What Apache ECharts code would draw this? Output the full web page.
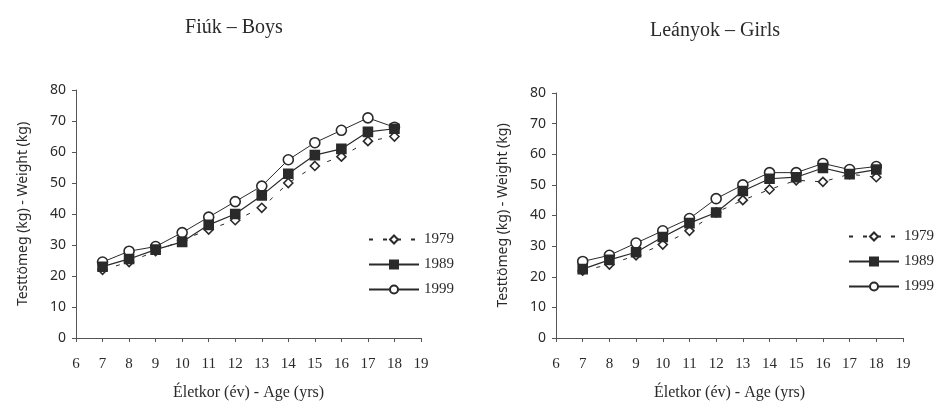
<!DOCTYPE html>
<html lang="hu">
<head>
    <meta charset="UTF-8">
    <script src="https://cdn.jsdelivr.net/npm/echarts@6/dist/echarts.min.js"></script>
    <title>Testtömeg</title>
    <style>
        html, body { height: 100%; margin: 0; padding: 0; background: #fff; }
        #chart { width: 935px; height: 403px; }
    </style>
</head>
<body>
    <div id="chart"></div>
    <script>
        // adatok
        var ages = [7, 8, 9, 10, 11, 12, 13, 14, 15, 16, 17, 18];
        var years = ['1979', '1989', '1999'];
        var xTicks = [6, 7, 8, 9, 10, 11, 12, 13, 14, 15, 16, 17, 18, 19];
        var yTicks = [0, 10, 20, 30, 40, 50, 60, 70, 80];

        var boys1979 = [22, 24.5, 28, 31.5, 35, 38, 42, 50, 55.5, 58.5, 63.5, 65];
        var boys1989 = [23, 25.5, 28.5, 31, 36.5, 40, 46, 53, 59, 61, 66.5, 67.5];
        var boys1999 = [24.5, 28, 29.5, 34, 39, 44, 49, 57.5, 63, 67, 71, 68];

        var girls1979 = [22, 24, 27, 30.5, 35, 41, 45, 48.5, 51.5, 51, 53.5, 52.5];
        var girls1989 = [22.5, 25.5, 28, 33, 37.5, 41, 48, 52, 52.5, 55.5, 53.5, 55];
        var girls1999 = [25, 27, 31, 35, 39, 45.5, 50, 54, 54, 57, 55, 56];

        var serif = 'Liberation Serif';
        var sans = 'Noto Sans';
        var ink = '#2a2a2a';

        function pairs(vals) {
            return ages.map(function (a, i) { return [a, vals[i]]; });
        }

        var styles = {
            '1979': { symbol: 'diamond', size: 9, fill: '#fff', line: { color: ink, width: 1, type: [4, 10] } },
            '1989': { symbol: 'rect', size: 9, fill: ink, line: { color: ink, width: 1.2, type: 'solid' } },
            '1999': { symbol: 'circle', size: 10, fill: '#fff', line: { color: ink, width: 1, type: 'solid' } }
        };

        function makeSeries(name, vals, idx) {
            var s = styles[name];
            return {
                name: name,
                type: 'line',
                xAxisIndex: idx,
                yAxisIndex: idx,
                data: pairs(vals),
                symbol: s.symbol,
                symbolSize: s.size,
                showAllSymbol: true,
                itemStyle: { color: s.fill, borderColor: ink, borderWidth: 1.6 },
                lineStyle: s.line,
                z: name === '1989' ? 3 : 2,
                animation: false
            };
        }

        function xAxis(idx) {
            return {
                gridIndex: idx,
                type: 'value',
                min: 6, max: 19, interval: 1,
                name: 'Életkor (év) - Age (yrs)',
                nameLocation: 'middle',
                nameGap: 47,
                nameTextStyle: { fontFamily: serif, fontSize: 16, color: ink },
                axisLine: { lineStyle: { color: '#555' } },
                axisTick: { show: true, length: 4, lineStyle: { color: '#555' } },
                axisLabel: {
                    fontFamily: serif, fontSize: 15, color: ink, margin: 19,
                    formatter: function (v) { return xTicks.indexOf(v) >= 0 ? String(v) : ''; }
                },
                splitLine: { show: false }
            };
        }

        function yAxis(idx) {
            return {
                gridIndex: idx,
                type: 'value',
                min: 0, max: 80, interval: 10,
                name: 'Testtömeg (kg) - Weight (kg)',
                nameLocation: 'middle',
                nameGap: 46,
                nameTextStyle: { fontFamily: sans, fontSize: 14, color: ink },
                axisLine: { show: true, lineStyle: { color: '#555' } },
                axisTick: { show: true, length: 4, lineStyle: { color: '#555' } },
                axisLabel: {
                    fontFamily: sans, fontSize: 14, color: ink, margin: 10,
                    formatter: function (v) { return yTicks.indexOf(v) >= 0 ? String(v) : ''; }
                },
                splitLine: { show: false }
            };
        }

        function legend(left, top) {
            return {
                data: years,
                orient: 'vertical',
                left: left,
                top: top,
                padding: 0,
                itemWidth: 50,
                itemHeight: 10,
                itemGap: 10,
                selectedMode: false,
                textStyle: { fontFamily: serif, fontSize: 15, color: ink }
            };
        }

        var myChart = echarts.init(document.getElementById('chart'));
        var option = {
            backgroundColor: '#ffffff',
            animation: false,
            title: [
                { text: 'Fiúk – Boys', left: 229, top: 13, textAlign: 'center',
                  textStyle: { fontFamily: serif, fontSize: 20, fontWeight: 'normal', color: ink } },
                { text: 'Leányok – Girls', left: 710, top: 16, textAlign: 'center',
                  textStyle: { fontFamily: serif, fontSize: 20, fontWeight: 'normal', color: ink } }
            ],
            grid: [
                { left: 76, top: 90, width: 345, height: 248, outerBoundsMode: 'none' },
                { left: 556, top: 93, width: 347, height: 245, outerBoundsMode: 'none' }
            ],
            xAxis: [xAxis(0), xAxis(1)],
            yAxis: [yAxis(0), yAxis(1)],
            legend: [legend(368, 232), legend(848, 229)],
            series: [
                makeSeries('1979', boys1979, 0),
                makeSeries('1989', boys1989, 0),
                makeSeries('1999', boys1999, 0),
                makeSeries('1979', girls1979, 1),
                makeSeries('1989', girls1989, 1),
                makeSeries('1999', girls1999, 1)
            ]
        };
        myChart.setOption(option);
    </script>
</body>
</html>
